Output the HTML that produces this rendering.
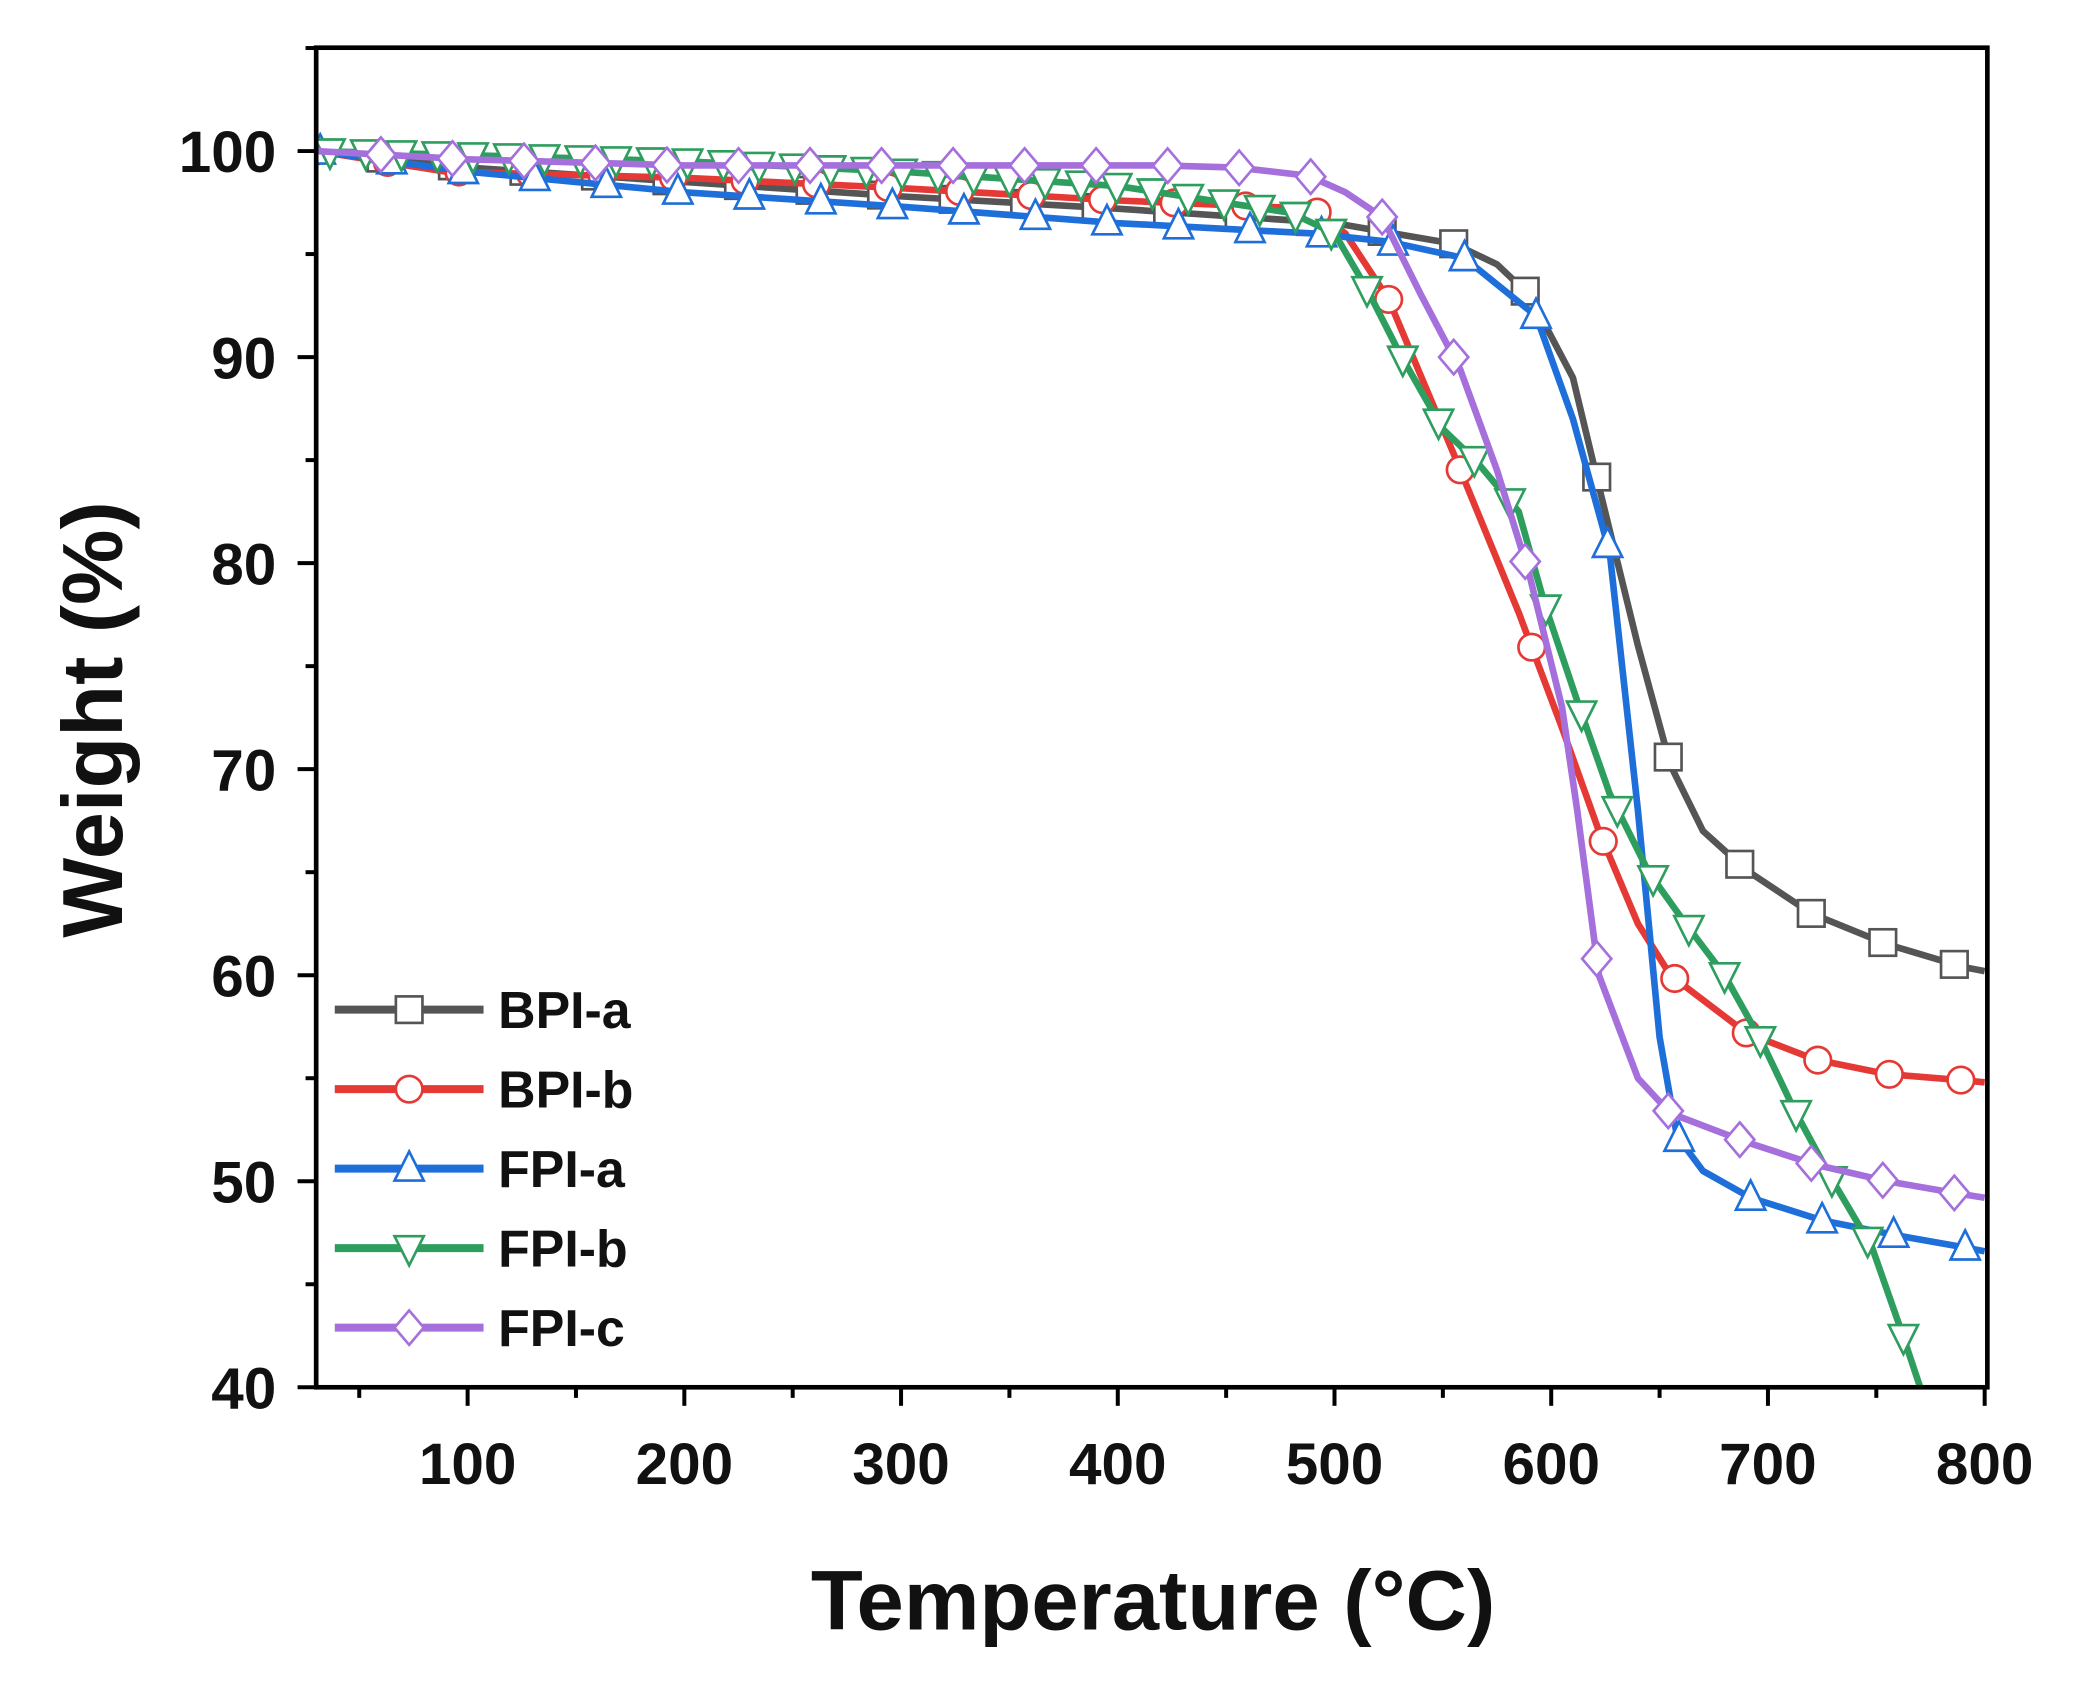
<!DOCTYPE html>
<html><head><meta charset="utf-8"><style>
html,body{margin:0;padding:0;background:#fff;}
svg{display:block;}
text{font-family:"Liberation Sans",Arial,sans-serif;font-weight:bold;fill:#111;}
</style></head><body>
<svg id="s" width="2083" height="1696" viewBox="0 0 1568 1280" preserveAspectRatio="none" xmlns="http://www.w3.org/2000/svg">
<defs><clipPath id="c"><rect x="238" y="36" width="1258" height="1011"/></clipPath></defs>
<g id="ticks" stroke="#000" stroke-width="3"></g>
<g id="series" clip-path="url(#c)"></g>
<rect x="238" y="36" width="1258" height="1011" fill="none" stroke="#000" stroke-width="3.5"/>
<g id="labels"></g>
<g id="legend"></g>
<text x="868" y="1230" font-size="64" text-anchor="middle">Temperature (°C)</text>
<text transform="translate(92,543) rotate(-90)" font-size="64" text-anchor="middle">Weight (%)</text>
</svg>
<script>
var NS="http://www.w3.org/2000/svg";
function X(t){return 352+(t-100)*1.6314;}
function Y(w){return 114+(100-w)*15.55;}
function el(n,a,p){var e=document.createElementNS(NS,n);for(var k in a)e.setAttribute(k,a[k]);p.appendChild(e);return e;}
var tk=document.getElementById('ticks'),lb=document.getElementById('labels');
for(var t=50;t<=800;t+=50){var maj=t%100==0;el('line',{x1:X(t),x2:X(t),y1:1047,y2:1047+(maj?14:8)},tk);
 if(maj){var tx=el('text',{x:X(t),y:1120,'font-size':44,'text-anchor':'middle'},lb);tx.textContent=t;}}
for(var w=40;w<=105;w+=5){var maj=w%10==0;el('line',{x1:238,x2:238-(maj?14:8),y1:Y(w),y2:Y(w)},tk);
 if(maj){var tx=el('text',{x:208,y:Y(w)+16,'font-size':44,'text-anchor':'end'},lb);tx.textContent=w;}}
var S=[
{n:'BPI-a',c:'#555555',m:'sq',o:30,sp:33,d:[[30,100],[100,99.2],[200,98.5],[300,97.8],[400,97.2],[500,96.5],[555,95.5],[575,94.5],[590,93],[610,89],[623,83.3],[640,76],[655,70.2],[670,67],[690,65.1],[720,63],[755,61.5],[790,60.4],[800,60.2]]},
{n:'BPI-b',c:'#e53935',m:'ci',o:0,sp:33,d:[[30,100],[90,99],[200,98.7],[300,98.2],[400,97.6],[490,97.2],[505,96],[525,92.8],[555,85.3],[585,77.6],[605,72],[622,67],[640,62.5],[655,60],[690,57.2],[722,55.9],[755,55.2],[790,54.9],[800,54.8]]},
{n:'FPI-a',c:'#1e6fd9',m:'tu',o:2,sp:33,d:[[30,100],[100,99],[200,98],[300,97.3],[400,96.5],[490,96],[525,95.6],[560,94.8],[593,92],[610,87],[627,80.5],[640,68],[650,57],[658,52.2],[670,50.5],[692,49.2],[725,48.1],[758,47.4],[790,46.8],[800,46.6]]},
{n:'FPI-b',c:'#2e9e5e',m:'td',o:6.5,sp:16.5,d:[[30,100],[100,99.8],[200,99.5],[300,99],[400,98.3],[480,97],[500,96],[515,93.3],[530,90.2],[550,86.5],[565,85],[585,82.5],[597,78],[613,73],[627,68.8],[645,65],[662,62.5],[680,60],[697,56.8],[712,53.5],[730,50],[748,46.8],[762,42.6],[775,38.5]]},
{n:'FPI-c',c:'#a56fdc',m:'di',o:30,sp:33,d:[[30,100],[100,99.6],[200,99.3],[300,99.3],[420,99.3],[455,99.2],[488,98.8],[505,98],[522,96.8],[540,93],[558,89.4],[575,84.5],[590,79.4],[605,73],[612,68],[622,60],[640,55],[655,53.3],[690,51.9],[722,50.8],[755,50],[788,49.4],[800,49.2]]}];
function interp(d,t){for(var i=1;i<d.length;i++){if(t<=d[i][0]){var a=d[i-1],b=d[i];return a[1]+(b[1]-a[1])*(t-a[0])/(b[0]-a[0]);}}return d[d.length-1][1];}
function marker(m,x,y,c,g){var r=11;
 if(m=='sq')el('rect',{x:x-r+1,y:y-r+1,width:2*r-2,height:2*r-2,fill:'#fff',stroke:c,'stroke-width':2},g);
 else if(m=='ci')el('circle',{cx:x,cy:y,r:r-1,fill:'#fff',stroke:c,'stroke-width':2},g);
 else if(m=='tu')el('polygon',{points:(x)+','+(y-r-2)+' '+(x-r)+','+(y+r-2)+' '+(x+r)+','+(y+r-2),fill:'#fff',stroke:c,'stroke-width':2},g);
 else if(m=='td')el('polygon',{points:(x)+','+(y+r+2)+' '+(x-r)+','+(y-r+2)+' '+(x+r)+','+(y-r+2),fill:'#fff',stroke:c,'stroke-width':2},g);
 else el('polygon',{points:x+','+(y-r-2)+' '+(x+r)+','+y+' '+x+','+(y+r+2)+' '+(x-r)+','+y,fill:'#fff',stroke:c,'stroke-width':2},g);}
var sg=document.getElementById('series'),lg=document.getElementById('legend');
S.forEach(function(s,i){var g=el('g',{},sg);
 el('polyline',{points:s.d.map(function(p){return X(p[0])+','+Y(p[1]);}).join(' '),fill:'none',stroke:s.c,'stroke-width':5,'stroke-linejoin':'round'},g);
 var t0=30+s.o;while(t0-s.sp>=30)t0-=s.sp;
 for(var t=t0;t<=800;t+=s.sp){marker(s.m,X(t),Y(interp(s.d,t)),s.c,g);}
 var y=762+i*60;el('line',{x1:252,x2:364,y1:y,y2:y,stroke:s.c,'stroke-width':6},lg);marker(s.m,308,y,s.c,lg);
 var tx=el('text',{x:375,y:y+14,'font-size':39},lg);tx.textContent=s.n;});
</script>
</body></html>
